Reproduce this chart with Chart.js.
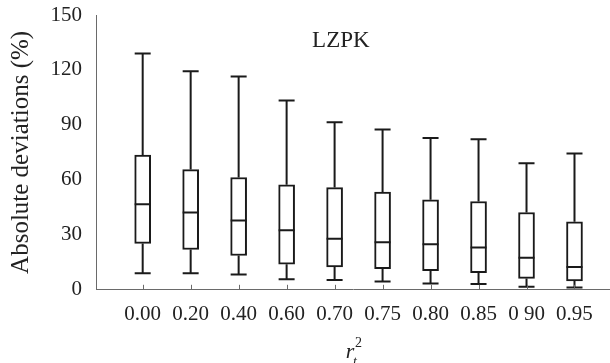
<!DOCTYPE html>
<html>
<head>
<meta charset="utf-8">
<script src="https://cdn.jsdelivr.net/npm/chart.js@4"></script>
<style>
  body { margin: 0; background: #fff; }
  #wrap { width: 610px; height: 363px; }
</style>
</head>
<body>
<div id="wrap"><canvas id="box"></canvas></div>
<script>
// r_t^2 categories and the box statistics (%)
const categories = ["0.00", "0.20", "0.40", "0.60", "0.70", "0.75", "0.80", "0.85", "0 90", "0.95"];
const whiskerLow  = [9.1, 9.0, 8.4, 5.8, 5.3, 4.5, 3.5, 3.1, 1.6, 1.3];
const q1Values    = [25.3, 22.0, 18.7, 14.0, 12.5, 11.6, 10.4, 9.3, 6.2, 4.9];
const medians     = [46.7, 42.2, 37.8, 32.5, 27.8, 26.0, 24.9, 23.1, 17.5, 12.5];
const q3Values    = [73.5, 65.6, 61.3, 57.3, 55.8, 53.3, 49.1, 48.2, 42.2, 37.1];
const whiskerHigh = [129.0, 119.3, 116.4, 103.3, 91.5, 87.5, 82.9, 82.2, 69.1, 74.4];
const yTicks = [0, 30, 60, 90, 120, 150];

const serif = "'Liberation Serif', 'DejaVu Serif', serif";
const ink = '#1a1a1a';
const axisGrey = '#6a6a6a';

Chart.defaults.font.family = serif;
Chart.defaults.color = '#222';

const positions = categories.map((c, i) => i + 1);
const boxes = positions.map((p, i) => ({ x: p, y: [q1Values[i], q3Values[i]] }));

// whiskers, caps and medians drawn from the arrays through the scales
const boxExtras = {
  id: 'boxExtras',
  afterDatasetsDraw(chart) {
    const { ctx, scales: { x, y } } = chart;
    const half = 8;
    ctx.save();
    ctx.strokeStyle = ink;
    ctx.lineWidth = 2;
    positions.forEach((p, i) => {
      const cx = x.getPixelForValue(p);
      ctx.beginPath();
      ctx.moveTo(cx, y.getPixelForValue(q3Values[i]));
      ctx.lineTo(cx, y.getPixelForValue(whiskerHigh[i]));
      ctx.moveTo(cx, y.getPixelForValue(q1Values[i]));
      ctx.lineTo(cx, y.getPixelForValue(whiskerLow[i]));
      [whiskerHigh[i], whiskerLow[i], medians[i]].forEach(v => {
        const py = y.getPixelForValue(v);
        ctx.moveTo(cx - half, py);
        ctx.lineTo(cx + half, py);
      });
      ctx.stroke();
    });
    // small inward tick marks on the x axis
    ctx.strokeStyle = axisGrey;
    ctx.lineWidth = 1;
    ctx.beginPath();
    positions.forEach(p => {
      const cx = Math.round(x.getPixelForValue(p)) + 0.5;
      ctx.moveTo(cx, y.bottom);
      ctx.lineTo(cx, y.bottom - 5);
    });
    ctx.stroke();

    // panel label
    ctx.fillStyle = '#222';
    ctx.font = '23px ' + serif;
    ctx.textAlign = 'center';
    ctx.textBaseline = 'middle';
    ctx.fillText('LZPK', x.getPixelForValue(5.13), y.getPixelForValue(136));

    // x axis title r_t^2
    ctx.textBaseline = 'alphabetic';
    ctx.font = 'italic 22px ' + serif;
    ctx.fillText('r', 350, 358);
    ctx.font = '14px ' + serif;
    ctx.textAlign = 'left';
    ctx.fillText('2', 355, 347);
    ctx.font = 'italic 14px ' + serif;
    ctx.fillText('t', 353, 366);
    ctx.restore();
  }
};

new Chart(document.getElementById('box'), {
  type: 'bar',
  data: {
    datasets: [{
      data: boxes,
      backgroundColor: '#ffffff',
      borderColor: ink,
      borderWidth: 2,
      borderSkipped: false,
      barThickness: 16
    }]
  },
  options: {
    responsive: true,
    maintainAspectRatio: false,
    animation: false,
    layout: { padding: { top: 15, right: 0, bottom: 24, left: 0 } },
    plugins: { legend: { display: false }, tooltip: { enabled: false } },
    scales: {
      x: {
        type: 'linear',
        offset: false,
        min: 0.027,
        max: 10.74,
        afterBuildTicks: s => { s.ticks = positions.map(v => ({ value: v })); },
        afterFit: s => { s.paddingLeft = 0; s.paddingRight = 0; },
        grid: { display: false, drawTicks: false, offset: false },
        border: { display: true, color: axisGrey, width: 1 },
        ticks: {
          autoSkip: false,
          maxRotation: 0,
          padding: 12,
          font: { size: 21 },
          callback: v => categories[v - 1]
        }
      },
      y: {
        min: 0,
        max: 150,
        afterBuildTicks: s => { s.ticks = yTicks.map(v => ({ value: v })); },
        afterFit: s => { s.width = 96; s.paddingTop = 0; s.paddingBottom = 0; },
        grid: { display: false, drawTicks: false },
        border: { display: true, color: axisGrey, width: 1 },
        ticks: { padding: 14, font: { size: 21 } },
        title: {
          display: true,
          text: 'Absolute deviations (%)',
          font: { size: 25 },
          padding: { top: 6, bottom: 0 }
        }
      }
    }
  },
  plugins: [boxExtras]
});
</script>
</body>
</html>
